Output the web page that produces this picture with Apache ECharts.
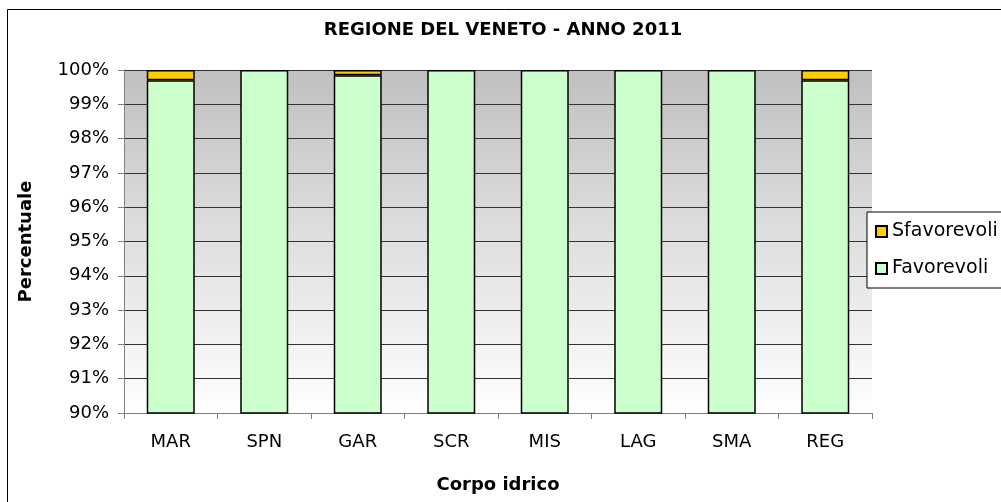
<!DOCTYPE html>
<html>
<head>
<meta charset="utf-8">
<script src="https://cdn.jsdelivr.net/npm/echarts@6/dist/echarts.min.js"></script>
<style>
  html, body { margin: 0; padding: 0; background: #fff; }
  #chart { width: 1001px; height: 502px; }
</style>
</head>
<body>
<div id="chart"></div>
<script>
const categories = ['MAR', 'SPN', 'GAR', 'SCR', 'MIS', 'LAG', 'SMA', 'REG']
const favorevoli = [99.7, 100, 99.85, 100, 100, 100, 100, 99.7]
const sfavorevoli = [0.3, 0, 0.15, 0, 0, 0, 0, 0.3]

const font = 'DejaVu Sans, Arial, sans-serif'

// zero-height segments would still show a border line, so leave them out
const noZero = arr => arr.map(v => (v === 0 ? '-' : v))

var myChart = echarts.init(document.getElementById('chart'))
myChart.setOption({
  animation: false,
  title: {
    text: 'REGIONE DEL VENETO - ANNO 2011',
    left: 498,
    textAlign: 'center',
    top: 16,
    textStyle: { fontFamily: font, fontSize: 18, fontWeight: 'bold', color: '#000' }
  },
  legend: {
    orient: 'vertical',
    left: 867,
    top: 212,
    icon: 'rect',
    itemWidth: 11,
    itemHeight: 11,
    itemGap: 18,
    padding: [10, 10, 10, 8],
    borderColor: '#000',
    borderWidth: 1,
    backgroundColor: '#fff',
    data: ['Sfavorevoli', 'Favorevoli'],
    textStyle: { fontFamily: font, fontSize: 19, color: '#000' }
  },
  grid: {
    left: 124,
    right: 129,
    top: 70,
    bottom: 89,
    show: true,
    borderWidth: 0,
    backgroundColor: new echarts.graphic.LinearGradient(0, 0, 0, 1, [
      { offset: 0, color: '#c0c0c0' },
      { offset: 1, color: '#ffffff' }
    ])
  },
  xAxis: {
    type: 'category',
    data: categories,
    name: 'Corpo idrico',
    nameLocation: 'middle',
    nameGap: 63,
    nameTextStyle: { fontFamily: font, fontSize: 18, fontWeight: 'bold', color: '#000' },
    axisLine: { lineStyle: { color: '#808080', width: 1 } },
    axisTick: { show: true, length: 6, lineStyle: { color: '#808080' } },
    axisLabel: { fontFamily: font, fontSize: 18, color: '#000', margin: 20 }
  },
  yAxis: {
    type: 'value',
    min: 90,
    max: 100,
    interval: 1,
    name: 'Percentuale',
    nameLocation: 'middle',
    nameGap: 89,
    nameTextStyle: { fontFamily: font, fontSize: 18, fontWeight: 'bold', color: '#000' },
    axisLine: { show: true, lineStyle: { color: '#808080', width: 1 } },
    axisTick: { show: true, length: 6, lineStyle: { color: '#808080' } },
    splitLine: { show: true, lineStyle: { color: '#333', width: 1 } },
    axisLabel: { fontFamily: font, fontSize: 18, color: '#000', margin: 15, formatter: '{value}%' }
  },
  series: [
    {
      name: 'Favorevoli',
      type: 'bar',
      stack: 'tot',
      data: favorevoli,
      barWidth: 48,
      itemStyle: { color: '#ccffcc', borderColor: '#000', borderWidth: 1.5 }
    },
    {
      name: 'Sfavorevoli',
      type: 'bar',
      stack: 'tot',
      data: noZero(sfavorevoli),
      barWidth: 48,
      itemStyle: { color: '#ffcc00', borderColor: '#000', borderWidth: 1.5 }
    }
  ],
  graphic: [{
    type: 'rect',
    shape: { x: 7.5, y: 9.5, width: 1000, height: 500 },
    style: { fill: 'none', stroke: '#000', lineWidth: 1 },
    silent: true
  }]
})
</script>
</body>
</html>
